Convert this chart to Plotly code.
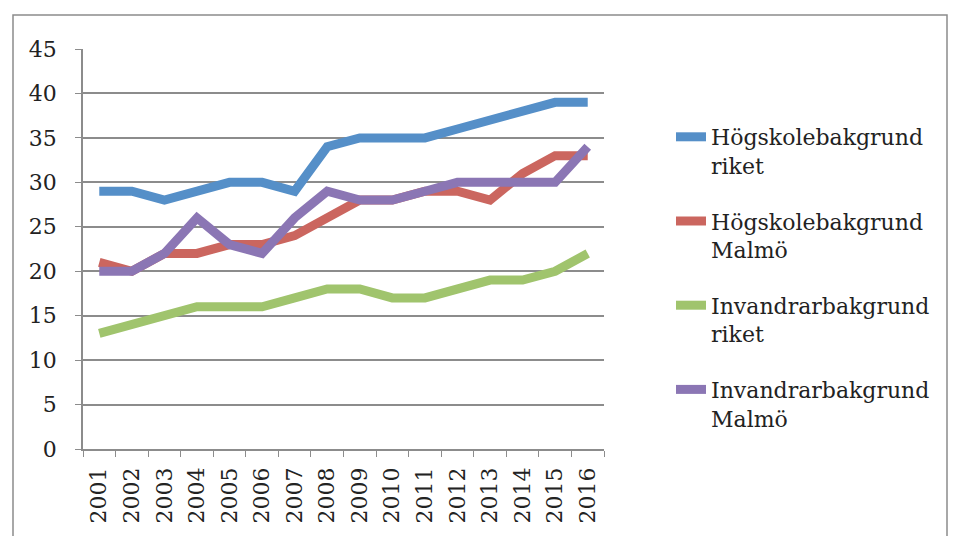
import plotly.graph_objects as go

# Years on the x axis
years = [str(y) for y in range(2001, 2017)]

# Series values
hogskola_riket = [29, 29, 28, 29, 30, 30, 29, 34, 35, 35, 35, 36, 37, 38, 39, 39]
hogskola_malmo = [21, 20, 22, 22, 23, 23, 24, 26, 28, 28, 29, 29, 28, 31, 33, 33]
invandrar_riket = [13, 14, 15, 16, 16, 16, 17, 18, 18, 17, 17, 18, 19, 19, 20, 22]
invandrar_malmo = [20, 20, 22, 26, 23, 22, 26, 29, 28, 28, 29, 30, 30, 30, 30, 34]

series = [
    ("Högskolebakgrund<br>riket", hogskola_riket, "#558FC8"),
    ("Högskolebakgrund<br>Malmö", hogskola_malmo, "#CB665F"),
    ("Invandrarbakgrund<br>riket", invandrar_riket, "#A0C46D"),
    ("Invandrarbakgrund<br>Malmö", invandrar_malmo, "#8B76B4"),
]

fig = go.Figure()
for i, (name, vals, col) in enumerate(series):
    fig.add_trace(go.Scatter(
        x=years, y=vals, name=name, mode="lines",
        line=dict(color=col, width=9),
        legendgroup=str(i),
    ))

# page body has an 8px margin, so work in figure pixels = screen - 8
W, H = 951, 528
L, R, T, B = 75, 596, 41, 441
pw, ph = R - L, B - T

def px(x):
    return (x - L) / pw

def py(y):
    return (B - y) / ph

grid = "#8C8C8C"
fig.update_layout(
    width=W, height=H,
    margin=dict(l=L, r=W - R, t=T, b=H - B),
    paper_bgcolor="white", plot_bgcolor="white",
    font=dict(family="DejaVu Serif", size=22, color="#222222"),
    showlegend=True,
    legend=dict(
        x=px(663), y=py(108), xanchor="left", yanchor="top",
        font=dict(size=22), tracegroupgap=24, valign="top",
        bgcolor="rgba(0,0,0,0)",
    ),
    xaxis=dict(
        type="category", tickangle=-90, range=[-0.5, 15.5],
        showline=True, linecolor=grid, linewidth=1.5,
        ticks="outside", ticklen=6, tickcolor=grid,
        tickson="boundaries", showgrid=False, ticklabelstandoff=8,
        tickfont=dict(size=22), automargin=False,
    ),
    yaxis=dict(
        range=[0, 45], dtick=5,
        showline=True, linecolor=grid, linewidth=1.5,
        ticks="outside", ticklen=6, tickcolor=grid,
        showgrid=True, gridcolor=grid, gridwidth=1.5,
        ticksuffix="\u00a0\u00a0",
        zeroline=False, tickfont=dict(size=22), automargin=False,
    ),
)

# outer chart border
fig.add_shape(
    type="rect", xref="paper", yref="paper",
    x0=px(5), x1=px(939), y0=py(560), y1=py(7),
    line=dict(color="#8C8C8C", width=1.5),
)

fig.write_html("out.html")
